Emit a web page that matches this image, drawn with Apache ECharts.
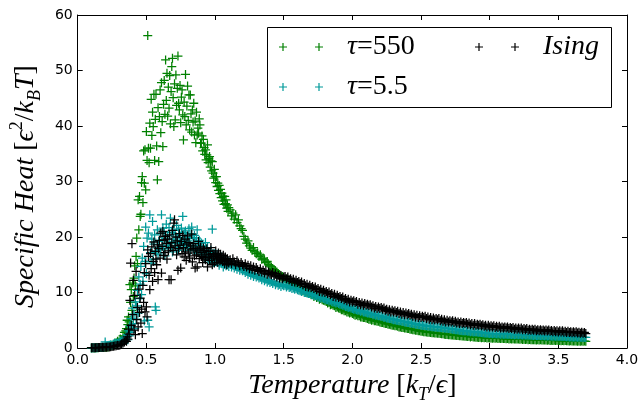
<!DOCTYPE html>
<html><head><meta charset="utf-8">
<script src="https://cdn.jsdelivr.net/npm/echarts@6/dist/echarts.min.js"></script>
<style>html,body{margin:0;padding:0;background:#fff}#c{width:642px;height:410px}</style>
</head><body><div id="c"></div>
<script>
// Temperatures (shared by all three series)
const temperatures = [
0.10,0.11,0.12,0.13,0.14,0.15,0.16,0.17,0.18,0.19,0.20,0.21,0.22,0.23,0.24,0.25,0.26,0.27,0.28,0.29,0.30,0.31,0.32,0.33,0.34,0.35,
0.355,0.36,0.365,0.37,0.375,0.38,0.385,0.39,0.395,0.40,
0.405,0.41,0.415,0.42,0.425,0.43,0.435,0.44,0.445,0.45,
0.455,0.46,0.465,0.47,0.475,0.48,0.485,0.49,0.495,0.50,
0.505,0.51,0.515,0.52,0.525,0.53,0.535,0.54,0.545,0.55,
0.555,0.56,0.565,0.57,0.575,0.58,0.585,0.59,0.595,0.60,
0.605,0.61,0.615,0.62,0.625,0.63,0.635,0.64,0.645,0.65,
0.655,0.66,0.665,0.67,0.675,0.68,0.685,0.69,0.695,0.70,
0.705,0.71,0.715,0.72,0.725,0.73,0.735,0.74,0.745,0.75,
0.755,0.76,0.765,0.77,0.775,0.78,0.785,0.79,0.795,0.80,
0.805,0.81,0.815,0.82,0.825,0.83,0.835,0.84,0.845,0.85,
0.855,0.86,0.865,0.87,0.875,0.88,0.885,0.89,0.895,0.90,
0.905,0.91,0.915,0.92,0.925,0.93,0.935,0.94,0.945,0.95,
0.955,0.96,0.965,0.97,0.975,0.98,0.985,0.99,0.995,1.00,
1.005,1.01,1.015,1.02,1.025,1.03,1.035,1.04,1.045,1.05,
1.055,1.06,1.065,1.07,1.075,1.08,1.085,1.09,1.095,1.10,
1.11,1.12,1.13,1.14,1.15,1.16,1.17,1.18,1.19,1.20,
1.21,1.22,1.23,1.24,1.25,1.26,1.27,1.28,1.29,1.30,
1.31,1.32,1.33,1.34,1.35,1.36,1.37,1.38,1.39,1.40,
1.41,1.42,1.43,1.44,1.45,1.46,1.47,1.48,1.49,1.50,
1.51,1.52,1.53,1.54,1.55,1.56,1.57,1.58,1.59,1.60,
1.61,1.62,1.63,1.64,1.65,1.66,1.67,1.68,1.69,1.70,
1.71,1.72,1.73,1.74,1.75,1.76,1.77,1.78,1.79,1.80,
1.81,1.82,1.83,1.84,1.85,1.86,1.87,1.88,1.89,1.90,
1.91,1.92,1.93,1.94,1.95,1.96,1.97,1.98,1.99,2.00,
2.01,2.02,2.03,2.04,2.05,2.06,2.07,2.08,2.09,2.10,
2.11,2.12,2.13,2.14,2.15,2.16,2.17,2.18,2.19,2.20,
2.21,2.22,2.23,2.24,2.25,2.26,2.27,2.28,2.29,2.30,
2.31,2.32,2.33,2.34,2.35,2.36,2.37,2.38,2.39,2.40,
2.41,2.42,2.43,2.44,2.45,2.46,2.47,2.48,2.49,2.50,
2.51,2.52,2.53,2.54,2.55,2.56,2.57,2.58,2.59,2.60,
2.61,2.62,2.63,2.64,2.65,2.66,2.67,2.68,2.69,2.70,
2.71,2.72,2.73,2.74,2.75,2.76,2.77,2.78,2.79,2.80,
2.81,2.82,2.83,2.84,2.85,2.86,2.87,2.88,2.89,2.90,
2.91,2.92,2.93,2.94,2.95,2.96,2.97,2.98,2.99,3.00,
3.01,3.02,3.03,3.04,3.05,3.06,3.07,3.08,3.09,3.10,
3.11,3.12,3.13,3.14,3.15,3.16,3.17,3.18,3.19,3.20,
3.21,3.22,3.23,3.24,3.25,3.26,3.27,3.28,3.29,3.30,
3.31,3.32,3.33,3.34,3.35,3.36,3.37,3.38,3.39,3.40,
3.41,3.42,3.43,3.44,3.45,3.46,3.47,3.48,3.49,3.50,
3.51,3.52,3.53,3.54,3.55,3.56,3.57,3.58,3.59,3.60,
3.61,3.62,3.63,3.64,3.65,3.66,3.67,3.68,3.69,3.70
];

// Specific heat, tau = 550 (green)
const heatTau550 = [
0.02,0.03,0.02,0.05,0.04,0.06,0.08,0.07,0.1,0.12,0.15,0.2,0.18,0.3,0.35,0.5,0.6,0.9,0.8,1.2,1.1,1.6,1.4,2.2,2.8,3.1,
3.5,5.0,4.2,5.6,4.7,11.4,8.2,10.5,6.8,11.7,
9.3,12.6,14.8,11.2,16.5,19.8,15.2,26.7,21.3,27.3,
23.7,24.1,29.8,30.9,26.2,35.5,29.7,35.7,28.5,39.0,
33.8,56.3,36.0,33.4,40.5,36.0,44.8,38.3,42.5,39.9,
45.7,33.8,41.2,45.7,36.4,30.3,43.3,33.6,41.7,46.5,
38.8,47.8,40.8,36.3,43.9,48.2,42.1,51.9,44.6,49.5,
41.8,47.0,43.2,49.1,40.4,46.2,50.7,52.2,45.1,39.9,
47.6,41.1,49.2,43.7,46.8,52.6,44.1,42.9,47.3,40.6,
45.2,46.5,42.0,37.5,44.3,41.7,49.3,40.2,43.6,47.2,
41.0,45.6,39.3,45.6,42.2,38.9,42.9,40.7,44.1,38.4,
40.9,37.0,42.5,38.4,39.6,38.7,41.3,40.2,36.9,36.9,
38.2,35.5,37.6,36.1,34.9,35.7,33.9,34.8,36.6,33.4,
34.1,34.5,32.6,33.7,31.9,33.6,31.5,30.6,32.2,30.9,
29.8,30.9,29.1,29.7,28.4,29.3,27.8,28.6,27.1,27.9,
26.5,27.3,25.9,27.3,26.0,26.7,25.2,25.8,24.6,25.3,
24.9,23.8,24.3,23.2,24.0,22.6,23.1,22.0,21.5,21.2,
20.1,19.6,18.9,19.3,18.4,18.0,17.6,18.1,17.3,17.0,
17.1,16.5,16.8,16.0,16.2,15.9,15.4,15.6,15.0,14.8,
14.6,14.3,14.1,13.9,13.7,13.4,13.2,12.8,12.9,12.6,
12.5,12.2,12.4,11.9,11.8,11.6,11.5,11.1,11.3,10.9,
10.9,10.6,10.8,10.3,10.4,10.2,10.0,9.9,9.9,9.6,
9.7,9.3,9.5,9.1,9.2,8.8,8.9,8.7,8.6,8.5,
8.4,8.1,8.2,7.8,7.9,7.7,7.6,7.3,7.4,7.2,
7.1,6.9,6.9,6.7,6.7,6.5,6.5,6.3,6.4,6.2,
6.1,5.9,6.0,5.8,5.8,5.6,5.6,5.5,5.5,5.4,
5.3,5.2,5.2,5.0,5.1,4.9,4.9,4.8,4.8,4.7,
4.6,4.6,4.5,4.4,4.4,4.3,4.3,4.2,4.1,4.1,
4.0,4.0,3.9,3.8,3.8,3.7,3.7,3.6,3.6,3.5,
3.5,3.4,3.4,3.3,3.3,3.2,3.2,3.1,3.1,3.0,
3.0,2.95,2.95,2.9,2.85,2.85,2.8,2.75,2.75,2.7,
2.7,2.65,2.65,2.6,2.55,2.55,2.5,2.45,2.45,2.4,
2.4,2.35,2.36,2.3,2.31,2.25,2.26,2.2,2.21,2.15,
2.15,2.1,2.12,2.05,2.1,2.0,2.05,1.96,2.0,1.95,
1.95,1.9,1.94,1.86,1.9,1.84,1.87,1.8,1.84,1.8,
1.8,1.75,1.79,1.74,1.78,1.72,1.76,1.7,1.74,1.7,
1.7,1.66,1.7,1.64,1.68,1.62,1.66,1.6,1.64,1.6,
1.6,1.56,1.6,1.54,1.58,1.52,1.56,1.5,1.54,1.5,
1.5,1.47,1.5,1.45,1.48,1.44,1.47,1.42,1.45,1.42,
1.42,1.39,1.42,1.37,1.4,1.36,1.39,1.35,1.38,1.35,
1.35,1.32,1.35,1.3,1.33,1.29,1.32,1.28,1.31,1.28,
1.28,1.25,1.28,1.23,1.26,1.22,1.25,1.2,1.24,1.2
];

// Specific heat, tau = 5.5 (cyan)
const heatTau55 = [
0.02,0.03,0.05,0.04,0.06,0.08,0.1,0.12,0.15,0.2,1.1,0.3,0.4,0.5,0.6,0.5,0.7,0.8,0.9,0.8,1.0,1.2,1.1,1.4,1.6,2.0,
1.8,2.4,1.5,3.1,2.2,4.0,2.8,5.3,3.6,7.2,
4.4,6.1,3.5,8.3,5.2,7.6,10.4,6.3,12.8,8.9,
11.5,14.7,9.6,16.2,12.0,18.3,4.9,15.6,21.8,13.4,
19.8,5.0,20.7,3.8,24.0,17.2,15.3,19.6,22.8,16.0,
18.7,20.4,7.4,6.8,17.5,21.3,16.9,19.2,18.0,20.6,
17.8,24.0,19.4,21.6,18.2,20.9,16.6,19.8,22.3,18.5,
20.3,17.9,21.7,19.1,23.4,18.4,20.8,17.3,19.6,21.2,
18.8,20.5,19.3,22.1,17.6,19.9,21.4,18.1,20.2,19.0,
21.6,18.6,23.7,19.5,20.8,17.9,21.1,18.8,20.0,19.3,
18.4,21.5,19.7,17.6,20.6,21.8,18.2,19.9,17.7,20.3,
18.9,17.7,19.8,21.3,18.5,17.2,19.4,18.0,17.5,18.9,
17.6,16.8,18.4,17.1,16.3,19.0,17.5,16.6,18.1,15.9,
17.2,16.4,15.7,17.6,16.0,21.4,16.8,15.4,17.0,16.2,
16.6,15.5,16.9,15.8,16.3,14.9,16.1,15.6,16.4,15.2,
15.9,14.6,15.7,15.1,16.0,14.8,15.4,15.0,15.6,14.7,
15.3,14.6,15.0,14.4,14.8,14.2,14.6,14.0,14.3,13.9,
14.1,13.6,13.9,13.3,13.6,13.1,13.4,12.9,13.2,12.8,
13.0,12.6,12.8,12.3,12.6,12.1,12.4,11.9,12.2,11.8,
12.0,11.6,11.9,11.4,11.7,11.3,11.5,11.1,11.4,11.2,
11.3,11.0,11.2,10.9,11.0,10.7,10.8,10.6,10.7,10.5,
10.4,10.3,10.2,10.3,10.0,10.0,9.9,9.8,9.8,9.7,
9.6,9.5,9.4,9.4,9.2,9.2,9.0,9.1,8.9,8.8,
8.7,8.7,8.5,8.6,8.4,8.3,8.3,8.1,8.2,8.0,
7.9,7.9,7.7,7.7,7.5,7.5,7.3,7.4,7.2,7.1,
7.0,7.0,6.9,6.8,6.8,6.6,6.7,6.5,6.5,6.4,
6.3,6.3,6.2,6.2,6.0,6.1,5.9,5.9,5.8,5.8,
5.7,5.7,5.5,5.6,5.4,5.4,5.3,5.3,5.2,5.1,
5.1,5.0,5.0,4.9,4.9,4.8,4.8,4.7,4.7,4.6,
4.6,4.5,4.5,4.4,4.4,4.3,4.3,4.2,4.2,4.1,
4.1,4.05,4.05,4.0,3.95,3.95,3.9,3.85,3.85,3.8,
3.8,3.75,3.75,3.7,3.65,3.65,3.6,3.55,3.55,3.5,
3.5,3.45,3.4,3.4,3.3,3.3,3.25,3.2,3.15,3.1,
3.1,3.05,3.1,3.0,3.0,2.95,3.0,2.9,2.95,2.9,
2.9,2.85,2.8,2.8,2.75,2.7,2.7,2.65,2.65,2.6,
2.6,2.58,2.6,2.55,2.57,2.53,2.55,2.5,2.53,2.5,
2.5,2.47,2.5,2.45,2.47,2.43,2.45,2.4,2.43,2.4,
2.4,2.37,2.4,2.35,2.37,2.33,2.35,2.3,2.33,2.3,
2.3,2.27,2.3,2.25,2.27,2.23,2.25,2.2,2.23,2.2,
2.2,2.17,2.2,2.15,2.17,2.13,2.15,2.1,2.13,2.1,
2.1,2.07,2.1,2.05,2.07,2.03,2.05,2.0,2.03,2.0,
2.0,1.97,2.0,1.95,1.97,1.93,1.95,1.9,1.93,1.9
];

// Specific heat, Ising (black)
const heatIsing = [
0.05,0.04,0.06,0.05,0.08,0.07,0.09,0.1,0.12,0.1,0.15,0.14,0.18,0.2,0.22,0.25,0.3,0.35,0.4,0.5,0.45,0.6,0.7,0.9,1.1,1.4,
1.2,2.0,1.6,3.4,2.5,8.6,15.3,4.1,18.8,6.0,
12.2,3.2,9.5,2.4,13.8,5.1,7.3,3.8,10.6,6.4,
9.0,4.5,7.0,2.6,11.3,8.2,13.6,6.5,15.2,7.4,
5.6,17.7,16.5,13.1,10.5,17.0,14.3,18.2,12.0,15.6,
19.1,13.6,17.4,16.0,15.0,18.6,12.3,17.9,19.4,16.2,
20.7,13.5,18.3,21.0,16.7,19.5,17.2,20.1,18.8,16.0,
19.6,17.5,12.3,20.4,18.1,12.3,19.0,21.2,17.6,22.5,
23.1,18.4,20.0,16.8,19.3,14.0,17.9,20.6,18.5,14.4,
19.2,17.0,20.3,18.1,16.4,19.6,17.3,15.8,18.7,20.2,
17.1,19.0,16.2,18.4,17.7,20.5,15.5,17.9,18.8,16.6,
14.4,18.0,16.8,14.6,17.5,19.2,16.1,17.8,18.2,16.5,
17.2,15.4,18.0,16.3,17.6,15.9,16.8,17.9,14.6,16.4,
17.4,15.8,16.9,18.1,16.2,15.0,17.0,16.5,15.3,16.8,
17.5,16.0,16.6,15.4,17.1,16.3,15.7,16.9,15.9,16.2,
15.6,16.7,15.9,15.2,16.4,15.8,15.0,16.1,15.5,15.3,
15.9,15.2,16.1,15.5,15.0,15.7,15.3,14.8,15.4,15.0,
14.7,15.2,14.6,14.9,14.3,14.8,14.2,14.6,14.0,14.5,
14.1,13.8,14.3,13.7,14.0,13.5,13.9,13.3,13.7,13.4,
13.2,13.6,13.0,13.4,12.8,13.1,12.6,13.0,12.5,12.8,
12.9,12.5,12.8,12.3,12.5,12.0,12.4,11.9,12.2,11.8,
12.0,11.6,11.9,11.4,11.6,11.1,11.5,11.0,11.3,10.9,
11.1,10.7,11.0,10.5,10.7,10.2,10.6,10.1,10.4,10.0,
10.2,9.8,10.1,9.6,9.8,9.3,9.7,9.2,9.5,9.1,
9.3,8.9,9.2,8.7,8.9,8.5,8.8,8.3,8.6,8.3,
8.5,8.2,8.4,7.9,8.2,7.8,8.1,7.7,8.0,7.7,
7.9,7.6,7.8,7.4,7.6,7.2,7.5,7.1,7.4,7.1,
7.3,7.0,7.2,6.8,7.0,6.6,6.9,6.5,6.8,6.5,
6.7,6.4,6.6,6.2,6.5,6.1,6.4,6.0,6.3,6.0,
6.2,5.9,6.1,5.7,6.0,5.6,5.9,5.5,5.8,5.5,
5.7,5.5,5.7,5.3,5.6,5.2,5.5,5.1,5.4,5.1,
5.3,5.1,5.3,4.9,5.2,4.8,5.1,4.7,5.0,4.7,
4.9,4.7,4.9,4.6,4.8,4.5,4.7,4.4,4.7,4.4,
4.6,4.4,4.6,4.3,4.5,4.2,4.4,4.1,4.4,4.1,
4.3,4.1,4.3,4.0,4.2,3.9,4.1,3.8,4.1,3.8,
4.0,3.8,4.0,3.7,3.9,3.7,3.9,3.6,3.8,3.6,
3.8,3.6,3.8,3.5,3.7,3.5,3.7,3.4,3.6,3.4,
3.6,3.4,3.6,3.3,3.5,3.3,3.5,3.2,3.4,3.2,
3.4,3.2,3.4,3.1,3.3,3.1,3.3,3.1,3.25,3.05,
3.25,3.05,3.25,3.0,3.15,2.95,3.15,2.95,3.1,2.9,
3.1,2.9,3.1,2.85,3.0,2.8,3.0,2.8,2.95,2.75,
2.95,2.75,2.95,2.7,2.85,2.65,2.85,2.65,2.8,2.6
];

const seriesNames = ['τ=550', 'τ=5.5', 'Ising'];
const xTickValues = [0, 0.5, 1.0, 1.5, 2.0, 2.5, 3.0, 3.5, 4.0];
const yTickValues = [0, 10, 20, 30, 40, 50, 60];

[heatTau550, heatTau55, heatIsing].forEach((a, k) => {
  if (a.length !== temperatures.length) console.warn('length mismatch', k, a.length, temperatures.length);
});

const PLUS = 'path://M4.3,0H5.7V4.3H10V5.7H5.7V10H4.3V5.7H0V4.3H4.3Z';
const LEGEND_ICON = 'path://M3.4,0H4.6V3.4H8V4.6H4.6V8H3.4V4.6H0V3.4H3.4Z M39.4,0H40.6V3.4H44V4.6H40.6V8H39.4V4.6H36V3.4H39.4Z M63,4L63,4.01';
const colors = ['#008000', '#009a9a', '#000000'];
const serif = 'Liberation Serif, DejaVu Serif, serif';

const nameRich = {
  i: { fontFamily: serif, fontStyle: 'italic', fontSize: 28, lineHeight: 36, color: '#000', verticalAlign: 'middle' },
  r: { fontFamily: serif, fontSize: 28, lineHeight: 36, color: '#000', verticalAlign: 'middle' },
  sub: { fontFamily: serif, fontStyle: 'italic', fontSize: 18, lineHeight: 18, color: '#000', verticalAlign: 'bottom' },
  sup: { fontFamily: serif, fontSize: 18, lineHeight: 18, color: '#000', verticalAlign: 'top' }
};
const legendRich = {
  i: { fontFamily: serif, fontStyle: 'italic', fontSize: 28, lineHeight: 30, color: '#000' },
  r: { fontFamily: serif, fontSize: 28, lineHeight: 30, color: '#000' }
};
function legendLabel(name) {
  if (name === 'Ising') return '{i|Ising}';
  return '{i|τ}{r|' + name.slice(1) + '}';
}

const axisCommon = {
  type: 'value',
  axisLine: { show: true, onZero: false, lineStyle: { color: '#000', width: 1 } },
  axisTick: { show: true, inside: true, length: 5, lineStyle: { color: '#000', width: 1 } },
  splitLine: { show: false }
};

const chart = echarts.init(document.getElementById('c'), null, { renderer: 'canvas' });
chart.setOption({
  animation: false,
  backgroundColor: '#fff',
  grid: { left: 67, right: 15, top: 15, bottom: 62, containLabel: false },
  xAxis: [
    Object.assign({}, axisCommon, {
      position: 'bottom', min: xTickValues[0], max: xTickValues[xTickValues.length - 1], interval: 0.5,
      axisLabel: { color: '#000', fontFamily: 'DejaVu Sans', fontSize: 14, margin: 5, formatter: v => v.toFixed(1) },
      name: '{i|Temperature }{r|[}{i|k}{sub|T}{r|/}{i|ϵ}{r|]}',
      nameLocation: 'middle', nameGap: 20,
      nameTextStyle: { rich: nameRich }
    }),
    Object.assign({}, axisCommon, {
      position: 'top', min: xTickValues[0], max: xTickValues[xTickValues.length - 1], interval: 0.5,
      axisLabel: { show: false }
    })
  ],
  yAxis: [
    Object.assign({}, axisCommon, {
      position: 'left', min: yTickValues[0], max: yTickValues[yTickValues.length - 1], interval: 10,
      axisLabel: { color: '#000', fontFamily: 'DejaVu Sans', fontSize: 14, margin: 5 },
      name: '{i|Specific Heat }{r|[}{i|ϵ}{sup|2}{r|/}{i|k}{sub|B}{i|T}{r|]}',
      nameLocation: 'middle', nameGap: 28, nameRotate: 90,
      nameTextStyle: { rich: nameRich, padding: [0, 10, 0, 0] }
    }),
    Object.assign({}, axisCommon, {
      position: 'right', min: yTickValues[0], max: yTickValues[yTickValues.length - 1], interval: 10,
      axisLabel: { show: false }
    })
  ],
  graphic: [{
    type: 'rect', x: 267.5, y: 27.5, z: 3,
    shape: { x: 0, y: 0, width: 344, height: 80 },
    style: { fill: '#fff', stroke: '#000', lineWidth: 1 }
  }],
  legend: [
    {
      data: [seriesNames[0], seriesNames[1]], orient: 'vertical', left: 279, top: 33, padding: 0,
      itemGap: 12, itemWidth: 63, itemHeight: 8, icon: LEGEND_ICON, selectedMode: false, z: 5,
      formatter: legendLabel, textStyle: { color: '#000', fontFamily: serif, fontSize: 28, rich: legendRich }
    },
    {
      data: [seriesNames[2]], orient: 'vertical', left: 475, top: 33, padding: 0,
      itemGap: 12, itemWidth: 63, itemHeight: 8, icon: LEGEND_ICON, selectedMode: false, z: 5,
      formatter: legendLabel, textStyle: { color: '#000', fontFamily: serif, fontSize: 28, rich: legendRich }
    }
  ],
  series: [heatTau550, heatTau55, heatIsing].map((vals, k) => ({
    name: seriesNames[k],
    type: 'scatter',
    xAxisIndex: 0, yAxisIndex: 0,
    symbol: PLUS, symbolSize: 9,
    itemStyle: { color: colors[k], opacity: 1 },
    emphasis: { disabled: true },
    silent: true,
    data: temperatures.map((t, i) => [t, vals[i]])
  }))
});
</script></body></html>
